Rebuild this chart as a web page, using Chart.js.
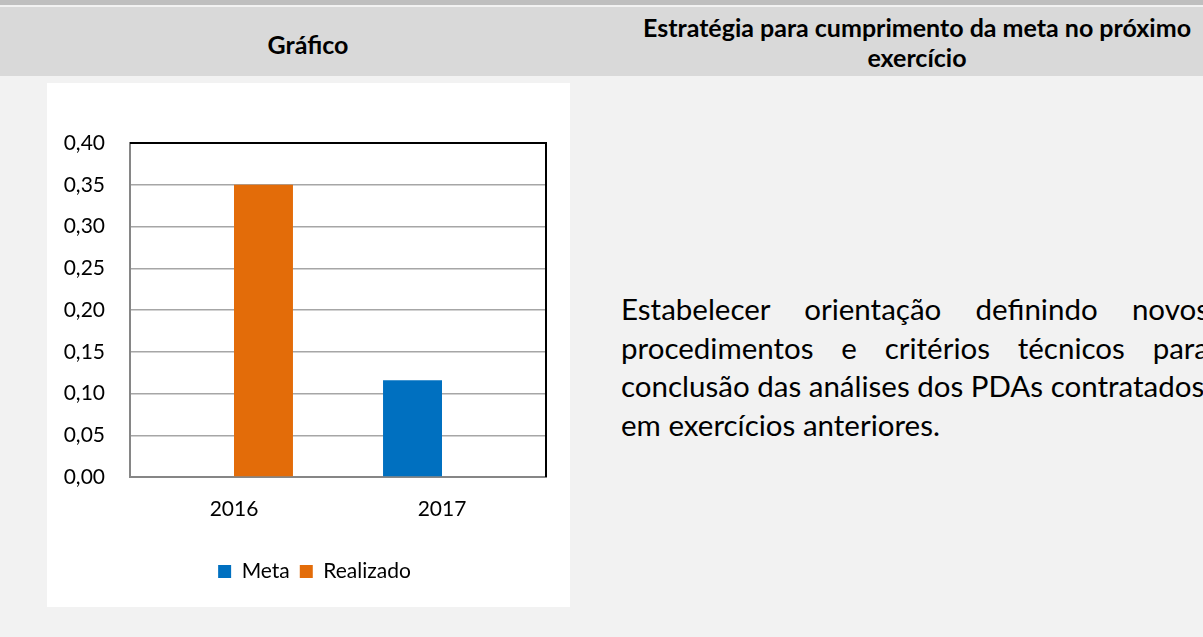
<!DOCTYPE html>
<html lang="pt">
<head>
<meta charset="utf-8">
<script src="https://cdn.jsdelivr.net/npm/chart.js@4"></script>
<style>
  html, body { margin: 0; padding: 0; }
  body {
    width: 1203px; height: 637px; overflow: hidden; position: relative;
    background: #f2f2f2; font-family: Lato, "Open Sans", sans-serif; color: #000;
  }
  .topband { position: absolute; left: 0; top: 0; width: 1203px; height: 5px; background: #bfbfbf; }
  .header { position: absolute; left: 0; top: 7px; width: 1203px; height: 69px; background: #d9d9d9; }
  .h-left, .h-right { position: absolute; font-weight: bold; font-size: 25px; text-align: center; }
  .h-left { left: 0; width: 616px; top: 22px; line-height: 30px; }
  .h-right { left: 616px; width: 602px; top: 5px; line-height: 30px; }
  .box { position: absolute; left: 47px; top: 83px; width: 523px; height: 524px; background: #fff; }
  .text { position: absolute; left: 621px; top: 290px; width: 588px; font-size: 29.5px; line-height: 38.7px; }
  .text div { text-align: justify; text-align-last: justify; white-space: nowrap; }
  .text div.last { text-align-last: left; }
</style>
</head>
<body>
<div class="topband"></div>
<div class="header">
  <div class="h-left">Gráfico</div>
  <div class="h-right">Estratégia para cumprimento da meta no próximo<br>exercício</div>
</div>
<div class="box"><canvas id="chart" width="523" height="524"></canvas></div>
<div class="text">
  <div>Estabelecer orientação definindo novos</div>
  <div>procedimentos e critérios técnicos para</div>
  <div class="last">conclusão das análises dos PDAs contratados</div>
  <div class="last">em exercícios anteriores.</div>
</div>
<script>
const anos = ["2016", "2017"];
const meta = [null, 0.116];
const realizado = [0.35, null];

const fonte = { family: "Lato, 'Open Sans', sans-serif", size: 21 };

// moldura preta em cima e à direita da área do gráfico
const moldura = {
  id: "moldura",
  afterLayout(chart) {
    // legenda centrada na caixa inteira, não só na área útil
    chart.legend.left += 18;
    chart.legend.right += 18;
  },
  afterDatasetsDraw(chart) {
    const { ctx, chartArea: a } = chart;
    ctx.save();
    ctx.strokeStyle = "#000";
    ctx.lineWidth = 2;
    ctx.beginPath();
    ctx.moveTo(a.left, a.top);
    ctx.lineTo(a.right, a.top);
    ctx.lineTo(a.right, a.bottom);
    ctx.stroke();
    ctx.restore();
  },
};

new Chart(document.getElementById("chart"), {
  type: "bar",
  data: {
    labels: anos,
    datasets: [
      { label: "Meta", data: meta, backgroundColor: "#0070c0" },
      { label: "Realizado", data: realizado, backgroundColor: "#e36c09" },
    ],
  },
  options: {
    responsive: false,
    animation: false,
    datasets: { bar: { categoryPercentage: 0.567, barPercentage: 1 } },
    layout: { padding: { left: 0, right: 24, top: 60, bottom: 15 } },
    scales: {
      x: {
        grid: { display: false, drawTicks: false },
        border: { color: "#868686", width: 2 },
        ticks: { color: "#000", font: fonte, padding: 20 },
        afterFit(s) { s.height = 74; },
      },
      y: {
        min: 0,
        max: 0.4,
        grid: { color: "#a6a6a6", lineWidth: 1.5, drawTicks: false },
        border: { color: "#868686", width: 2 },
        ticks: {
          stepSize: 0.05,
          color: "#000",
          font: fonte,
          padding: 25,
          callback: (v) => v.toFixed(2).replace(".", ","),
        },
        afterFit(s) { s.width = 83; },
      },
    },
    plugins: {
      legend: {
        position: "bottom",
        labels: { color: "#000", font: fonte, boxWidth: 13, boxHeight: 13, padding: 10 },
      },
      tooltip: { enabled: false },
    },
  },
  plugins: [moldura],
});
</script>
</body>
</html>
